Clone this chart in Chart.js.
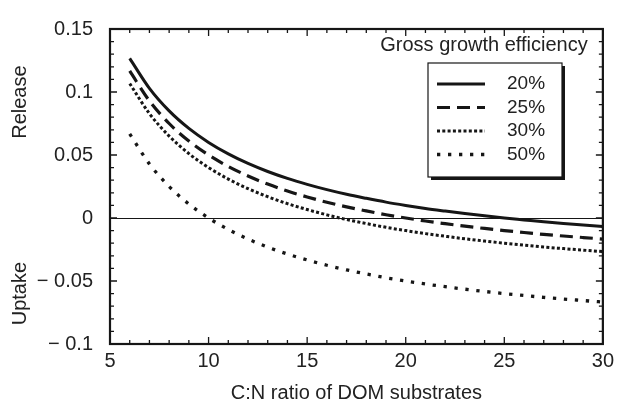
<!DOCTYPE html>
<html lang="en">
<head>
<meta charset="utf-8">
<title>C:N ratio of DOM substrates</title>
<script src="https://cdn.jsdelivr.net/npm/chart.js@4"></script>
<style>
  html, body { margin: 0; padding: 0; background: #fff; }
  #wrap { width: 619px; height: 407px; position: relative; }
</style>
</head>
<body>
<div id="wrap"><canvas id="cnChart"></canvas></div>
<script>
// --- data ---
const cnRatio = [6, 7, 8, 9, 10, 11, 12, 13, 14, 15, 16, 17, 18, 19, 20, 21, 22, 23, 24, 25, 26, 27, 28, 29, 30];
const gge20 = [0.1267, 0.1029, 0.0850, 0.0711, 0.0600, 0.0509, 0.0433, 0.0369, 0.0314, 0.0267, 0.0225, 0.0188, 0.0156, 0.0126, 0.0100, 0.0076, 0.0055, 0.0035, 0.0017, 0.0000, -0.0015, -0.0030, -0.0043, -0.0055, -0.0067];
const gge25 = [0.1167, 0.0929, 0.0750, 0.0611, 0.0500, 0.0409, 0.0333, 0.0269, 0.0214, 0.0167, 0.0125, 0.0088, 0.0056, 0.0026, 0.0000, -0.0024, -0.0045, -0.0065, -0.0083, -0.0100, -0.0115, -0.0130, -0.0143, -0.0155, -0.0167];
const gge30 = [0.1067, 0.0829, 0.0650, 0.0511, 0.0400, 0.0309, 0.0233, 0.0169, 0.0114, 0.0067, 0.0025, -0.0012, -0.0044, -0.0074, -0.0100, -0.0124, -0.0145, -0.0165, -0.0183, -0.0200, -0.0215, -0.0230, -0.0243, -0.0255, -0.0267];
const gge50 = [0.0667, 0.0429, 0.0250, 0.0111, 0.0000, -0.0091, -0.0167, -0.0231, -0.0286, -0.0333, -0.0375, -0.0412, -0.0444, -0.0474, -0.0500, -0.0524, -0.0545, -0.0565, -0.0583, -0.0600, -0.0615, -0.0630, -0.0643, -0.0655, -0.0667];
const seriesLabels = ['20%', '25%', '30%', '50%'];
const xTickLabels = [5, 10, 15, 20, 25, 30];
const yTickLabels = [-0.1, -0.05, 0, 0.05, 0.1, 0.15];

const FONT = "'Liberation Sans', Arial, Helvetica, sans-serif";
const INK = '#161616';

function isMajor(v, list) {
    return list.some(m => Math.abs(m - v) < 1e-6);
}

function fmtY(v) {
    const s = String(Number(Math.abs(v).toFixed(2)));
    return v < -1e-9 ? '\u2212 ' + s : s;
}

function toPoints(ys) {
    return cnRatio.map((x, i) => ({ x: x, y: ys[i] }));
}

// 枠・内向き目盛り・縦軸ラベル
const framePlugin = {
    id: 'frame',
    afterDatasetsDraw(chart) {
        const { ctx, chartArea: a, scales: { x, y } } = chart;
        ctx.save();
        ctx.strokeStyle = INK;
        ctx.lineWidth = 1.3;
        ctx.beginPath();
        x.ticks.forEach(t => {
            const px = x.getPixelForValue(t.value);
            const len = isMajor(t.value, xTickLabels) ? 7 : 4;
            ctx.moveTo(px, a.bottom); ctx.lineTo(px, a.bottom - len);
            ctx.moveTo(px, a.top); ctx.lineTo(px, a.top + len);
        });
        y.ticks.forEach(t => {
            const py = y.getPixelForValue(t.value);
            const len = isMajor(t.value, yTickLabels) ? 7 : 4;
            ctx.moveTo(a.left, py); ctx.lineTo(a.left + len, py);
            ctx.moveTo(a.right, py); ctx.lineTo(a.right - len, py);
        });
        ctx.stroke();

        ctx.lineWidth = 2.2;
        ctx.strokeRect(a.left, a.top, a.right - a.left, a.bottom - a.top);

        // Release / Uptake
        ctx.fillStyle = '#222';
        ctx.font = '20px ' + FONT;
        ctx.textAlign = 'center';
        ctx.textBaseline = 'middle';
        [['Release', 0.092], ['Uptake', -0.06]].forEach(([txt, v]) => {
            ctx.save();
            ctx.translate(20, y.getPixelForValue(v));
            ctx.rotate(-Math.PI / 2);
            ctx.fillText(txt, 0, 0);
            ctx.restore();
        });
        ctx.restore();
    }
};

// 凡例ボックス (影付き)
const legendPlugin = {
    id: 'boxLegend',
    afterDraw(chart) {
        const { ctx } = chart;
        const bx = 428, by = 63, bw = 134, bh = 114;
        ctx.save();
        ctx.fillStyle = '#222';
        ctx.font = '20px ' + FONT;
        ctx.textAlign = 'center';
        ctx.textBaseline = 'middle';
        ctx.fillText('Gross growth efficiency', 484, 45);

        ctx.fillStyle = INK;
        ctx.fillRect(bx + 3, by + 3, bw, bh);
        ctx.fillStyle = '#fff';
        ctx.fillRect(bx, by, bw, bh);
        ctx.strokeStyle = INK;
        ctx.lineWidth = 1.2;
        ctx.strokeRect(bx, by, bw, bh);

        chart.data.datasets.forEach((ds, i) => {
            const ry = by + 21 + i * 23.5;
            ctx.save();
            ctx.strokeStyle = ds.borderColor;
            ctx.lineWidth = ds.borderWidth;
            ctx.setLineDash(ds.borderDash || []);
            ctx.lineCap = 'butt';
            ctx.beginPath();
            ctx.moveTo(bx + 9, ry);
            ctx.lineTo(bx + 57, ry);
            ctx.stroke();
            ctx.restore();
            ctx.fillStyle = '#222';
            ctx.font = '19px ' + FONT;
            ctx.textAlign = 'left';
            ctx.fillText(ds.label, bx + 79, ry);
        });
        ctx.restore();
    }
};

const lineStyles = [
    { borderWidth: 3, borderDash: [] },
    { borderWidth: 3.2, borderDash: [13, 7] },
    { borderWidth: 3, borderDash: [3, 2.3] },
    { borderWidth: 3.3, borderDash: [3.3, 7.7] }
];

const seriesValues = [gge20, gge25, gge30, gge50];

new Chart(document.getElementById('cnChart'), {
    type: 'line',
    data: {
        datasets: seriesValues.map((vals, i) => ({
            label: seriesLabels[i],
            data: toPoints(vals),
            borderColor: INK,
            borderWidth: lineStyles[i].borderWidth,
            borderDash: lineStyles[i].borderDash,
            pointRadius: 0,
            fill: false,
            cubicInterpolationMode: 'monotone'
        }))
    },
    options: {
        responsive: true,
        maintainAspectRatio: false,
        animation: false,
        devicePixelRatio: 1,
        layout: { padding: { top: 23, right: 13, left: 0, bottom: 0 } },
        plugins: { legend: { display: false }, tooltip: { enabled: false } },
        scales: {
            x: {
                type: 'linear',
                min: 5,
                max: 30,
                afterFit: axis => { axis.height = 63; },
                ticks: {
                    stepSize: 1,
                    autoSkip: false,
                    maxRotation: 0,
                    padding: 5,
                    color: '#222',
                    font: { family: FONT, size: 20 },
                    callback: v => isMajor(v, xTickLabels) ? String(v) : ''
                },
                grid: { display: false, drawTicks: false },
                border: { display: false },
                title: {
                    display: true,
                    text: 'C:N ratio of DOM substrates',
                    color: '#222',
                    font: { family: FONT, size: 20 },
                    padding: { top: 0, bottom: 2 }
                }
            },
            y: {
                type: 'linear',
                min: -0.1,
                max: 0.15,
                afterFit: axis => { axis.width = 110; },
                ticks: {
                    stepSize: 0.01,
                    autoSkip: false,
                    padding: 17,
                    color: '#222',
                    font: { family: FONT, size: 20 },
                    callback: v => isMajor(v, yTickLabels) ? fmtY(v) : ''
                },
                grid: {
                    drawTicks: false,
                    lineWidth: 1,
                    color: c => Math.abs(c.tick.value) < 1e-9 ? INK : 'rgba(0,0,0,0)'
                },
                border: { display: false }
            }
        }
    },
    plugins: [framePlugin, legendPlugin]
});
</script>
</body>
</html>
